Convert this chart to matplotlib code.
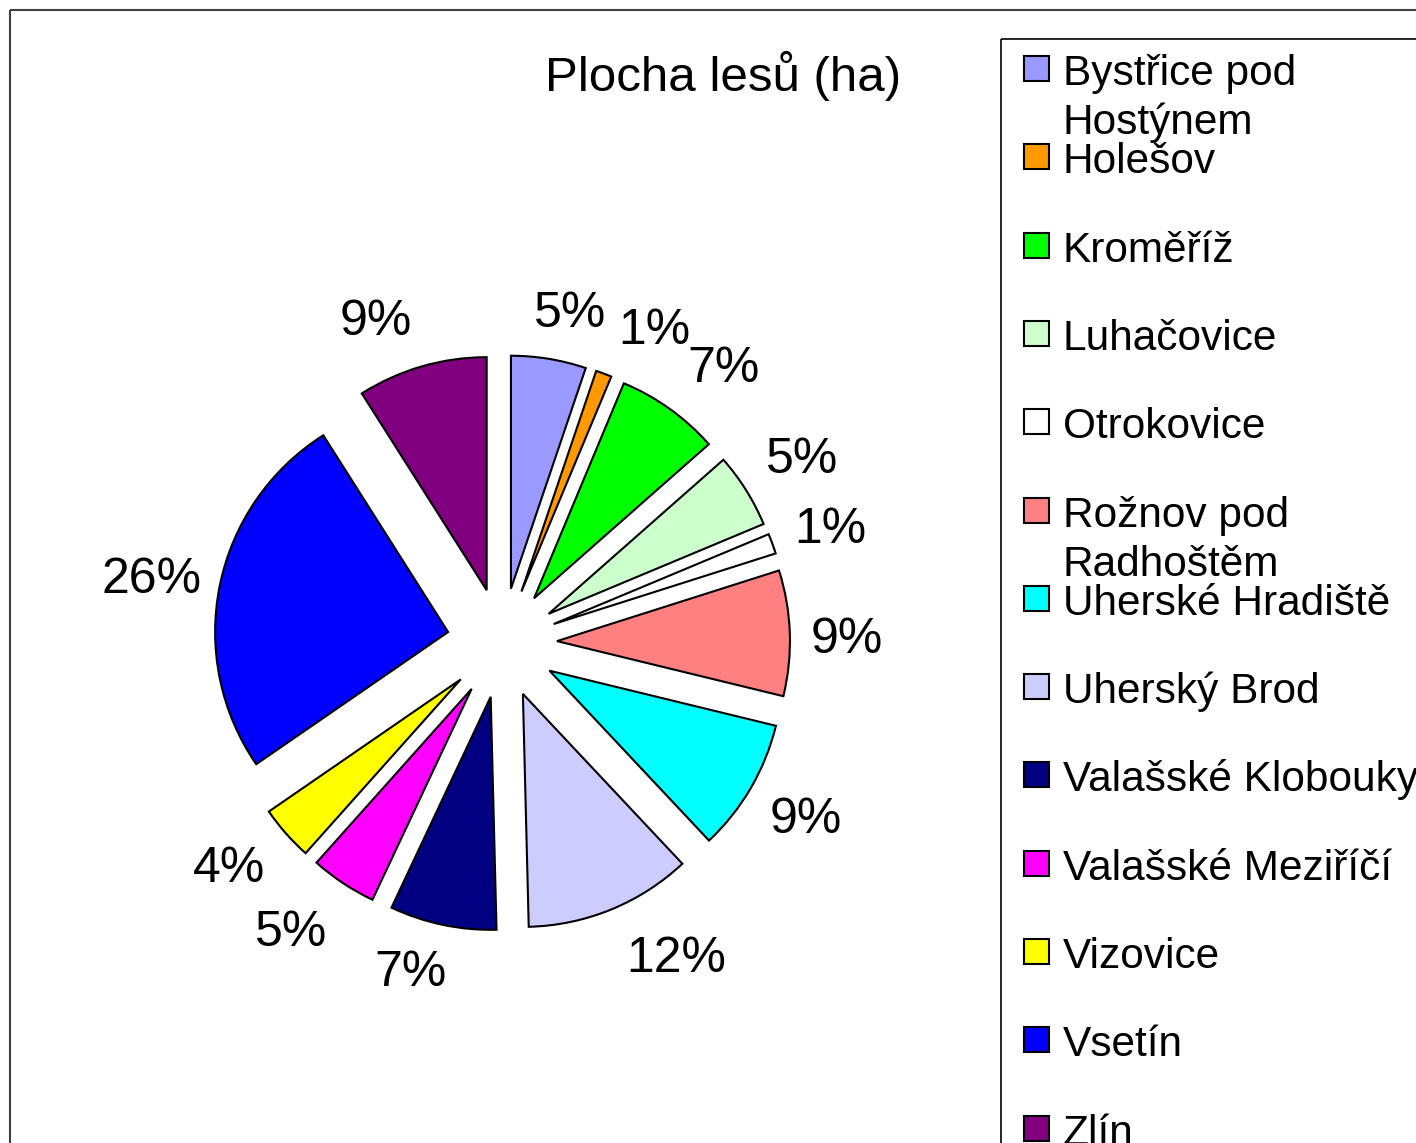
import numpy as np
import matplotlib
matplotlib.use("Agg")
import matplotlib.pyplot as plt
from matplotlib.patches import Rectangle

plt.rcParams['font.family'] = ['Liberation Sans', 'DejaVu Sans']

# podil ploch lesu (%)
districts = ["Bystřice pod\nHostýnem", "Holešov", "Kroměříž", "Luhačovice", "Otrokovice",
             "Rožnov pod\nRadhoštěm", "Uherské Hradiště", "Uherský Brod", "Valašské Klobouky",
             "Valašské Meziříčí", "Vizovice", "Vsetín", "Zlín"]
shares = [5.2, 1.1, 7.2, 5.2, 1.4, 8.7, 9.2, 11.6, 7.4, 4.6, 3.8, 25.6, 9.0]
colors = ["#9999FF", "#FF9900", "#00FF00", "#CCFFCC", "#FFFFFF", "#FF8080", "#00FFFF",
          "#CCCCFF", "#000080", "#FF00FF", "#FFFF00", "#0000FF", "#800080"]
title = "Plocha lesů (ha)"

# posun popisku (stupne ve smeru hodin) a vzdalenost od stredu, jako v Excelu
lab_shift = [2.3, 5.3, 3.3, 0.7, 1.2, 1.5, 0.0, -6.5, 3.7, 2.6, 1.8, -1.4, -5.2]
lab_dist = [1.44, 1.49, 1.51, 1.51, 1.49, 1.48, 1.51, 1.55, 1.47, 1.54, 1.52, 1.53, 1.48]

W, H = 1416, 1143
fig = plt.figure(figsize=(W / 100, H / 100), dpi=100)

# pie axes: 1 unit = R px, center at (cx, cy) px from top-left
R = 233.0
cx, cy = 502, 643
ax = fig.add_axes([0, 0, 1, 1])
ax.axis('off')

expl = 0.236
wedges, _ = ax.pie(shares, colors=colors, startangle=90, counterclock=False,
                   explode=[expl] * len(shares), radius=1.0,
                   wedgeprops=dict(edgecolor="black", linewidth=1.5))
ax.set_aspect('equal', adjustable='datalim')
ax.set_xlim(-cx / R, (W - cx) / R)
ax.set_ylim(-(H - cy) / R, cy / R)

total = sum(shares)
for w, v, sh, d in zip(wedges, shares, lab_shift, lab_dist):
    lab = "%d%%" % round(v / total * 100)
    th = np.deg2rad((w.theta1 + w.theta2) / 2 - sh)
    ax.text(d * np.cos(th), d * np.sin(th), lab, ha="center", va="center", fontsize=36)

# overlay in pixel coordinates: frame, title, legend
ov = fig.add_axes([0, 0, 1, 1])
ov.set_xlim(0, W)
ov.set_ylim(H, 0)
ov.axis('off')
ov.add_patch(Rectangle((10, 10), 1600, 1400, fill=False, edgecolor="#404040", linewidth=1.5))
ov.text(723, 91, title, ha="center", va="baseline", fontsize=35.5)

ov.add_patch(Rectangle((1001, 39), 600, 1300, fill=False, edgecolor="black", linewidth=1.2))
row0, step, line_gap = 68, 88.3, 49
for i, (name, col) in enumerate(zip(districts, colors)):
    y = row0 + i * step
    ov.add_patch(Rectangle((1024, y - 12), 25, 25, facecolor=col, edgecolor="black", linewidth=1.5))
    for k, line in enumerate(name.split("\n")):
        ov.text(1063, y + 17 + k * line_gap, line, ha="left", va="baseline", fontsize=30.5)

fig.savefig("out.png", dpi=100)
